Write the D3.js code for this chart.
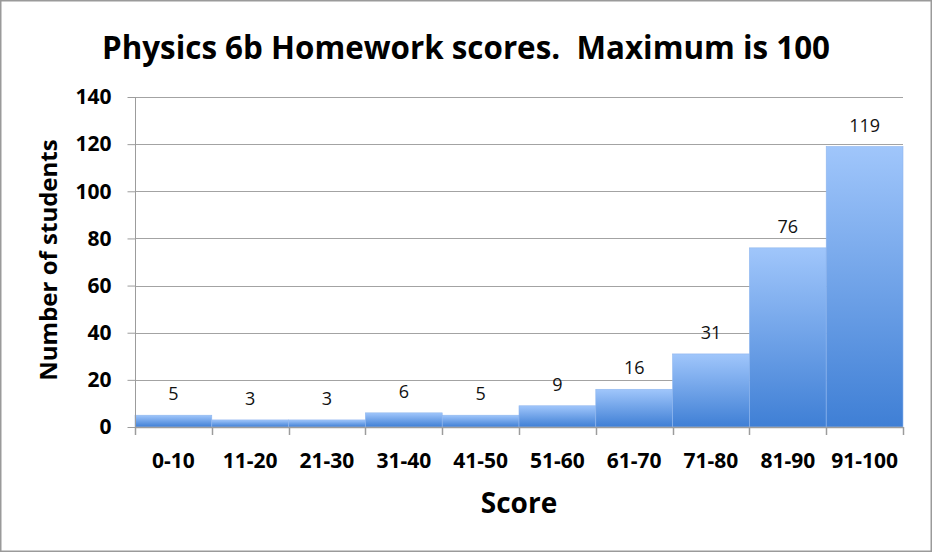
<!DOCTYPE html>
<html>
<head>
<meta charset="utf-8">
<script src="https://cdn.jsdelivr.net/npm/d3@7"></script>
<style>
  body { margin: 0; background: #fff; }
  svg { display: block; }
  text { font-family: "Open Sans", Lato, sans-serif; white-space: pre; }
</style>
</head>
<body>
<svg id="chart" width="932" height="552"></svg>
<script>
const categories = ['0-10', '11-20', '21-30', '31-40', '41-50', '51-60', '61-70', '71-80', '81-90', '91-100'];
const counts = [5, 3, 3, 6, 5, 9, 16, 31, 76, 119];
const yTicks = [0, 20, 40, 60, 80, 100, 120, 140];

const svg = d3.select('#chart');
const margin = { left: 135, right: 29, top: 97, bottom: 125 };
const width = 932, height = 552;

// outer frame
svg.append('rect')
  .attr('x', 0.75).attr('y', 0.75)
  .attr('width', width - 1.5).attr('height', height - 1.5)
  .attr('fill', '#fff').attr('stroke', '#9a9a9a').attr('stroke-width', 1.5);

const x = d3.scaleBand()
  .domain(categories)
  .range([margin.left, width - margin.right])
  .padding(0);

const y = d3.scaleLinear()
  .domain([0, 140])
  .range([height - margin.bottom, margin.top]);

// bar gradient, per bar
const defs = svg.append('defs');
const grad = defs.append('linearGradient')
  .attr('id', 'barFill')
  .attr('x1', 0).attr('y1', 0).attr('x2', 0).attr('y2', 1);
grad.append('stop').attr('offset', '0%').attr('stop-color', '#a0c6fb');
grad.append('stop').attr('offset', '100%').attr('stop-color', '#3f7fd5');

// grid lines
svg.append('g')
  .selectAll('line')
  .data(yTicks.slice(1))
  .enter()
  .append('line')
  .attr('x1', margin.left).attr('x2', width - margin.right)
  .attr('y1', d => Math.round(y(d)) + 0.5).attr('y2', d => Math.round(y(d)) + 0.5)
  .attr('stroke', '#a3a3a3').attr('stroke-width', 1);

// bars
svg.append('g')
  .selectAll('rect')
  .data(counts)
  .enter()
  .append('rect')
  .attr('x', (d, i) => x(categories[i]))
  .attr('width', x.bandwidth())
  .attr('y', d => y(d))
  .attr('height', d => y(0) - y(d))
  .attr('fill', 'url(#barFill)')
  .attr('stroke', '#8fb6ee')
  .attr('stroke-width', 0.6);

// data labels
svg.append('g')
  .selectAll('text')
  .data(counts)
  .enter()
  .append('text')
  .attr('x', (d, i) => x(categories[i]) + x.bandwidth() / 2)
  .attr('y', d => y(d) - 15)
  .attr('text-anchor', 'middle')
  .attr('font-size', 18)
  .attr('fill', '#111')
  .text(d => d);

// y axis
const yAxis = d3.axisLeft(y)
  .tickValues(yTicks)
  .tickSize(8)
  .tickPadding(16);
const gy = svg.append('g')
  .attr('transform', 'translate(' + (margin.left + 0.5) + ',0)')
  .call(yAxis);
gy.select('.domain').attr('stroke', '#9c9c9c').attr('d', 'M0,' + y(140) + 'V' + y(0));
gy.selectAll('.tick line').attr('stroke', '#9c9c9c');
gy.selectAll('.tick text')
  .attr('font-size', 21).attr('font-weight', 'bold')
  .attr('fill', '#000').attr('font-family', '"Open Sans", sans-serif');

// x axis
const xEdges = d3.scaleLinear().domain([0, categories.length]).range([margin.left, width - margin.right]);
const gx = svg.append('g');
gx.append('line')
  .attr('x1', margin.left).attr('x2', width - margin.right)
  .attr('y1', y(0) + 0.5).attr('y2', y(0) + 0.5)
  .attr('stroke', '#9c9c9c').attr('stroke-width', 1.5);
gx.selectAll('line.tk')
  .data(d3.range(categories.length + 1))
  .enter()
  .append('line')
  .attr('class', 'tk')
  .attr('x1', d => Math.round(xEdges(d)) + 0.5).attr('x2', d => Math.round(xEdges(d)) + 0.5)
  .attr('y1', y(0)).attr('y2', y(0) + 8)
  .attr('stroke', '#9c9c9c').attr('stroke-width', 1.5);
gx.selectAll('text')
  .data(categories)
  .enter()
  .append('text')
  .attr('x', d => x(d) + x.bandwidth() / 2)
  .attr('y', 468)
  .attr('text-anchor', 'middle')
  .attr('font-size', 21).attr('font-weight', 'bold')
  .text(d => d);

// titles
svg.append('text')
  .attr('x', 466).attr('y', 59)
  .attr('text-anchor', 'middle')
  .attr('font-size', 32).attr('font-weight', 'bold')
  .attr('textLength', 728).attr('lengthAdjust', 'spacingAndGlyphs')
  .text('Physics 6b Homework scores.  Maximum is 100');

svg.append('text')
  .attr('x', 519).attr('y', 513)
  .attr('text-anchor', 'middle')
  .attr('font-size', 28).attr('font-weight', 'bold')
  .text('Score');

svg.append('text')
  .attr('transform', 'translate(57,260) rotate(-90)')
  .attr('text-anchor', 'middle')
  .attr('font-size', 24).attr('font-weight', 'bold')
  .text('Number of students');
</script>
</body>
</html>
